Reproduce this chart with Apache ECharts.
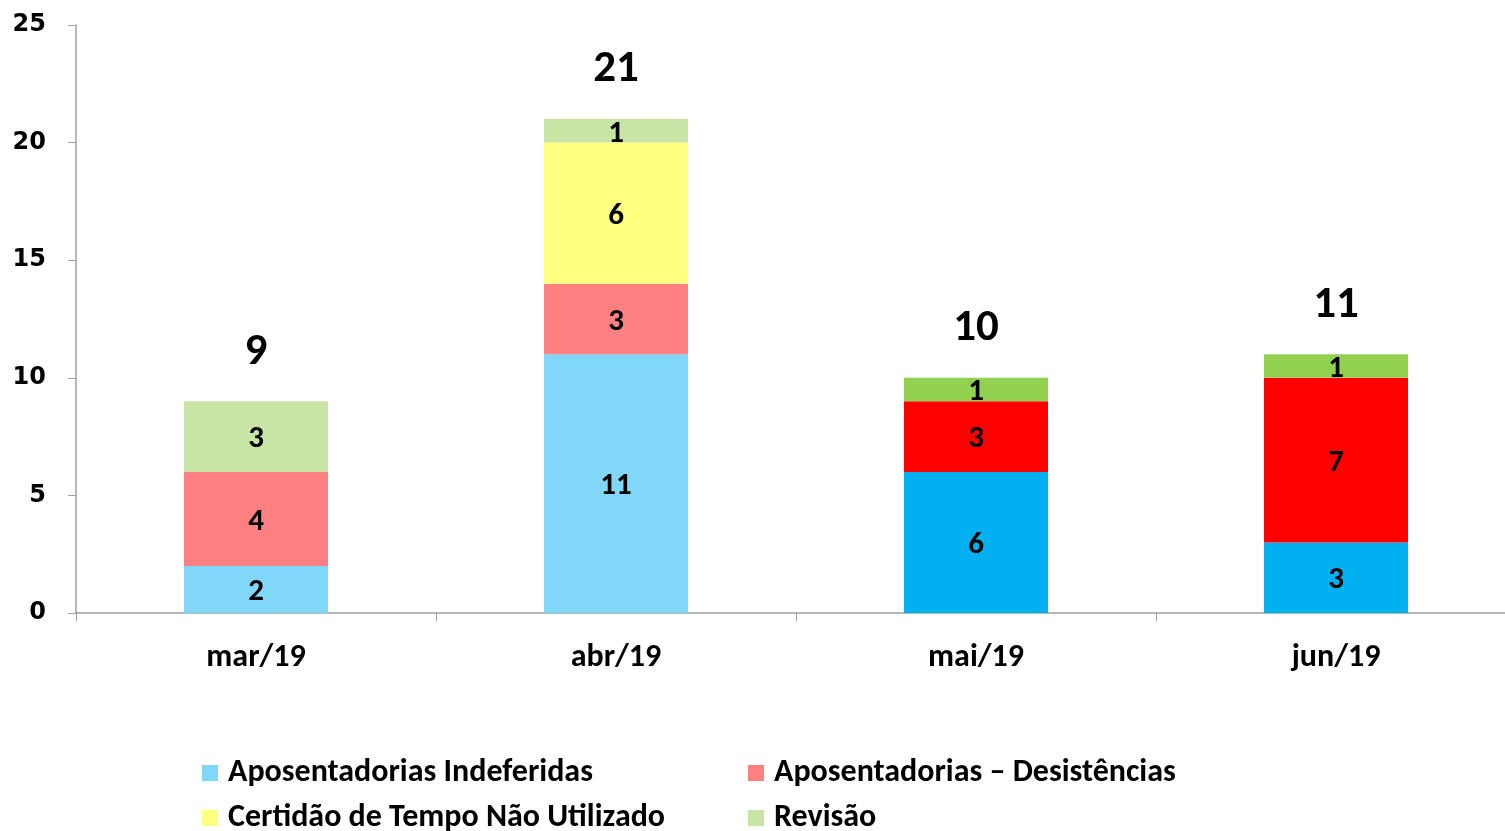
<!DOCTYPE html>
<html><head><meta charset="utf-8">
<script src="https://cdn.jsdelivr.net/npm/echarts@6/dist/echarts.min.js"></script>
<style>html,body{margin:0;padding:0;background:#fff}#c{width:1505px;height:831px}</style>
</head><body><div id="c"></div>
<script>
const categories = ['mar/19', 'abr/19', 'mai/19', 'jun/19'];
const seriesNames = ['Aposentadorias Indeferidas', 'Aposentadorias – Desistências', 'Certidão de Tempo Não Utilizado', 'Revisão'];
const indeferidas = [2, 11, 6, 3];
const desistencias = [4, 3, 3, 7];
const certidao = [null, 6, null, null];
const revisao = [3, 1, 1, 1];
const totals = [9, 21, 10, 11];
const yTicks = [0, 5, 10, 15, 20, 25];

const lightColors = ['#81D7F7', '#FF8080', '#FFFF80', '#C8E5A5'];
const strongColors = ['#00B0F0', '#FF0000', '#FFFF00', '#92D050'];
const strongFrom = 2; // mai/19 onwards use saturated colors

const FONT = "Carlito, 'Liberation Sans Narrow', 'Open Sans', sans-serif";

function mk(name, arr, idx) {
  return {
    name: name, type: 'bar', stack: 'total', barWidth: '40%',
    data: arr.map((v, i) => ({ value: v, itemStyle: { color: i >= strongFrom ? strongColors[idx] : lightColors[idx] } })),
    itemStyle: { color: lightColors[idx] },
    label: { show: true, position: 'inside', offset: [0, 3], color: '#000', fontWeight: 'bold', fontSize: 31, fontFamily: FONT,
      formatter: p => (p.value == null ? '' : p.value) },
    emphasis: { disabled: true }
  };
}

const chart = echarts.init(document.getElementById('c'), null, { renderer: 'canvas' });
const legendBase = { icon: 'rect', itemWidth: 16, itemHeight: 16, itemGap: 8, padding: 0,
  textStyle: { fontSize: 32, fontWeight: 'bold', color: '#000', fontFamily: FONT, padding: [0, 0, 0, 5] }, selectedMode: false };
chart.setOption({
  animation: false,
  grid: { left: 76, top: 25, width: 1440, height: 588, containLabel: false, outerBoundsMode: 'none' },
  xAxis: { type: 'category', data: categories,
    axisLine: { lineStyle: { color: '#A0A0A0', width: 1.5 } },
    axisTick: { show: true, length: 8, lineStyle: { color: '#A0A0A0' } },
    axisLabel: { color: '#000', fontWeight: 'bold', fontSize: 32, fontFamily: FONT, margin: 29 } },
  yAxis: { type: 'value', min: yTicks[0], max: yTicks[yTicks.length - 1], interval: 5,
    axisLine: { show: true, lineStyle: { color: '#A0A0A0', width: 1.5 } },
    axisTick: { show: true, length: 8, lineStyle: { color: '#A0A0A0' } },
    splitLine: { show: false },
    axisLabel: { color: '#000', fontWeight: 'bold', fontSize: 24, fontFamily: "'DejaVu Sans', sans-serif", margin: 30 } },
  legend: [
    Object.assign({ data: [seriesNames[0]], left: 202, top: 757 }, legendBase),
    Object.assign({ data: [seriesNames[1]], left: 748, top: 757 }, legendBase),
    Object.assign({ data: [seriesNames[2]], left: 202, top: 802 }, legendBase),
    Object.assign({ data: [seriesNames[3]], left: 748, top: 802 }, legendBase)
  ],
  series: [
    mk(seriesNames[0], indeferidas, 0),
    mk(seriesNames[1], desistencias, 1),
    mk(seriesNames[2], certidao, 2),
    mk(seriesNames[3], revisao, 3),
    { name: 'Total', type: 'scatter', data: totals, symbolSize: 1, itemStyle: { color: '#000', opacity: 0 },
      label: { show: true, position: 'top', distance: 26, color: '#000', opacity: 1, fontWeight: 'bold', fontSize: 45, fontFamily: FONT },
      emphasis: { disabled: true }, z: 10 }
  ]
});
</script></body></html>
